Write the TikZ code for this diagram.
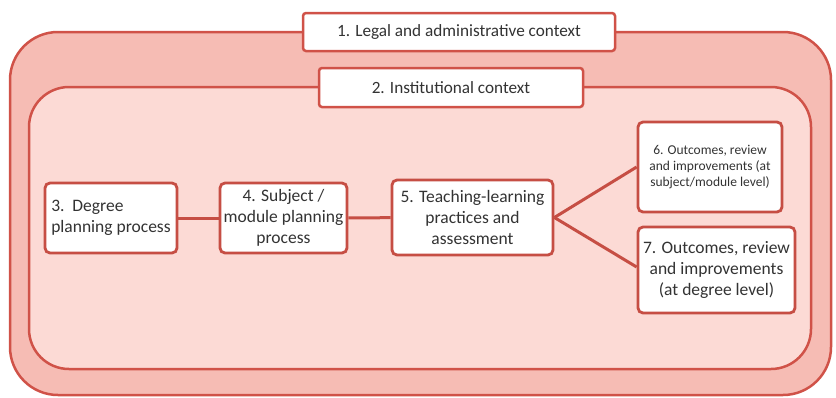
\documentclass[tikz,border=0pt]{standalone}
\usepackage{fontspec}
\setmainfont{Carlito}
\usetikzlibrary{positioning, calc}

\definecolor{ctxline}{RGB}{208,82,72}
\definecolor{outerfill}{RGB}{246,188,180}
\definecolor{innerfill}{RGB}{252,218,213}

\begin{document}
\begin{tikzpicture}[
  x=1pt, y=-1pt,
  every node/.style={font=\fontsize{17.5}{21}\selectfont, text=black!80},
  context/.style={rectangle, draw=ctxline, line width=2.5pt, fill=#1},
  label box/.style={rectangle, rounded corners=3pt, draw=ctxline, line width=2.5pt,
    fill=white, inner sep=2pt, align=center, font=\fontsize{17.2}{20}\selectfont},
  stage/.style={rectangle, rounded corners=5pt, draw=ctxline!95!black, line width=2.8pt,
    fill=white, inner sep=3pt, align=center},
  link/.style={draw=ctxline!95!black, line width=3pt}
]
\useasboundingbox (0,0) rectangle (836,397);

% ===== CONTEXT LAYERS =====
\path[context=outerfill, rounded corners=48pt] (10,32) rectangle (831,395);
\path[context=innerfill, rounded corners=40pt] (29,87) rectangle (811,369);

\node[label box, minimum width=312pt, minimum height=38pt] (legal) at (459,32)
  {1. Legal and administrative context};
\node[label box, minimum width=264pt, minimum height=39pt] (inst) at (451,87.5)
  {2. Institutional context};

% ===== PLANNING AND TEACHING =====
\node[stage, minimum width=132pt, minimum height=70pt, align=left] (degree) at (111,218)
  {3.\ \ Degree\\planning process};
\node[stage, minimum width=127pt, minimum height=70pt] (subject) at (283.5,218)
  {4. Subject /\\module planning\\process};
\node[stage, minimum width=161pt, minimum height=75pt] (teach) at (472.5,217.5)
  {5. Teaching-learning\\practices and\\assessment};

% ===== OUTCOMES =====
\node[stage, minimum width=144pt, minimum height=90pt,
  font=\fontsize{13.5}{16}\selectfont] (outsub) at (710,167)
  {6. Outcomes, review\\and improvements (at\\subject/module level)};
\node[stage, minimum width=157pt, minimum height=86pt] (outdeg) at (716.5,270)
  {7. Outcomes, review\\and improvements\\(at degree level)};

% ===== LINKS =====
\draw[link] (degree) -- (subject);
\draw[link] (subject) -- (teach);
\draw[link] (teach.east) -- (outsub.west);
\draw[link] (teach.east) -- ($(outdeg.west)+(0,-3)$);
\end{tikzpicture}
\end{document}
